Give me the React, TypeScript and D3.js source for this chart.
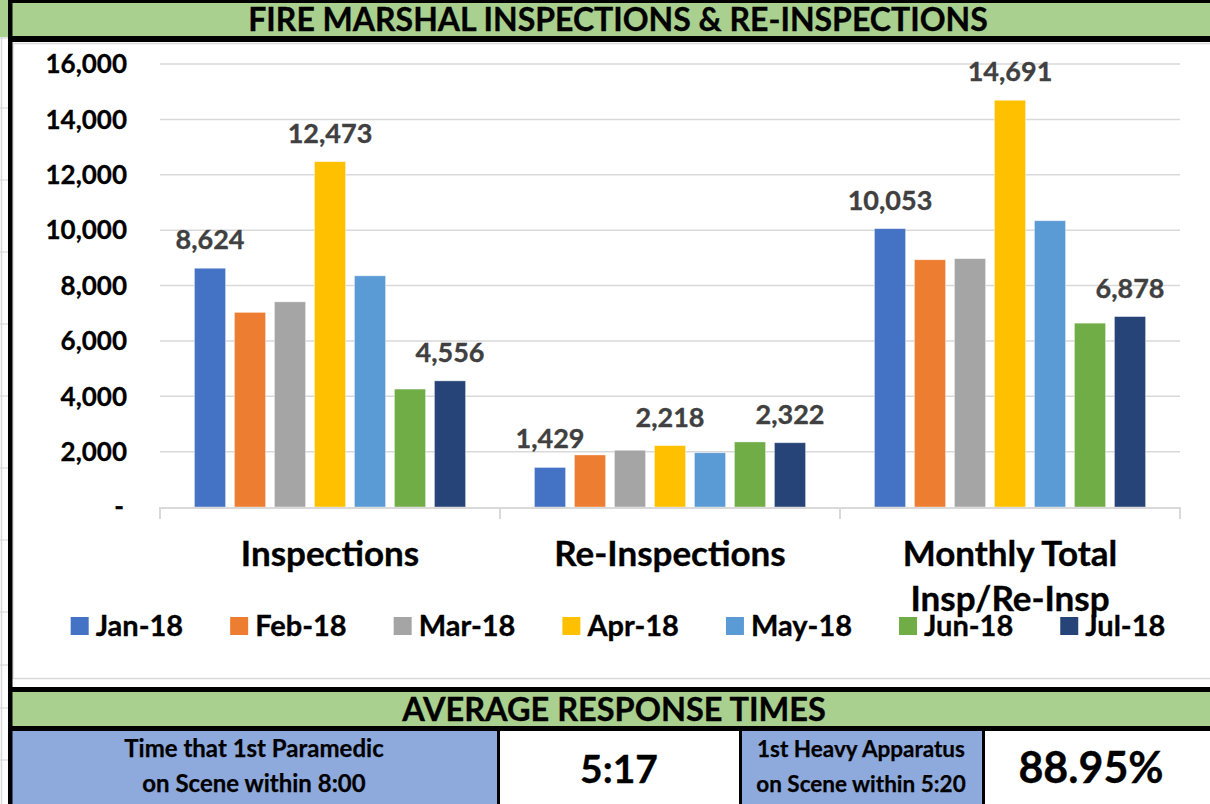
import React from 'react';
import * as d3 from 'd3';

const categories = ['Inspections', 'Re-Inspections', 'Monthly Total'];
const categoryLines: string[][] = [['Inspections'], ['Re-Inspections'], ['Monthly Total', 'Insp/Re-Insp']];
const months = ['Jan-18', 'Feb-18', 'Mar-18', 'Apr-18', 'May-18', 'Jun-18', 'Jul-18'];
const monthColors = ['#4472C4', '#ED7D31', '#A5A5A5', '#FFC000', '#5B9BD5', '#70AD47', '#264478'];
const inspections = [8624, 7030, 7410, 12473, 8350, 4260, 4556];
const reInspections = [1429, 1880, 2050, 2218, 1960, 2350, 2322];
const monthlyTotals = [10053, 8930, 8970, 14691, 10340, 6640, 6878];
const labeledMonths = ['Jan-18', 'Apr-18', 'Jul-18'];
const yTicks = [0, 2000, 4000, 6000, 8000, 10000, 12000, 14000, 16000];

const chartTitle = 'FIRE MARSHAL INSPECTIONS & RE-INSPECTIONS';
const tableTitle = 'AVERAGE RESPONSE TIMES';
const cell1Label = ['Time that 1st Paramedic', 'on Scene within 8:00'];
const cell1Value = '5:17';
const cell2Label = ['1st Heavy Apparatus', 'on Scene within 5:20'];
const cell2Value = '88.95%';

const seriesByCategory = [inspections, reInspections, monthlyTotals];

const FONT = "Lato, 'Open Sans', 'DejaVu Sans', sans-serif";
const GREEN = '#A9D08E';
const BLUE = '#8EA9DB';
const GRID = '#D9D9D9';

function measure(text: string, size: number): number {
  const c = document.createElement('canvas');
  const ctx = c.getContext('2d');
  if (!ctx) return text.length * size * 0.55;
  ctx.font = `700 ${size}px ${FONT}`;
  return ctx.measureText(text).width;
}

export default function App() {
  const W = 1210;
  const H = 804;
  const plotLeft = 160;
  const plotRight = 1180;
  const yBase = 507;
  const yTop = 64;

  const x0 = d3.scaleBand<string>().domain(categories).range([plotLeft, plotRight]).padding(0);
  const x1 = d3
    .scaleBand<string>()
    .domain(months)
    .range([0, x0.bandwidth()])
    .paddingInner(0.22)
    .paddingOuter(0.86);
  const y = d3.scaleLinear().domain([0, 16000]).range([yBase, yTop]);
  const fmt = d3.format(',');

  // legend layout
  const legendSize = 29;
  const markerSize = 18;
  const markerGap = 25;
  const itemGap = 47;
  const textWidths = months.map((m) => measure(m, legendSize));
  const totalLegend =
    textWidths.reduce((a, b) => a + b, 0) + months.length * markerGap + (months.length - 1) * itemGap;
  let lx = 618 - totalLegend / 2;
  const legendItems = months.map((m, i) => {
    const item = { m, x: lx, color: monthColors[i] };
    lx += markerGap + textWidths[i] + itemGap;
    return item;
  });
  const legendY = 626;

  const leftRows = [38, 108, 180, 252, 324, 396, 468, 540, 612, 665, 708, 760];
  const heavy = { stroke: '#000', strokeWidth: 0.35 };

  return (
    <svg
      width={W}
      height={H}
      style={{ position: 'absolute', left: 0, top: 0, background: '#fff' }}
      fontFamily={FONT}
    >
      {/* spreadsheet strip on the left */}
      <rect x={0} y={0} width={W} height={H} fill="#fff" />
      <line x1={1.5} x2={1.5} y1={36} y2={H} stroke={GRID} strokeWidth={1.5} />
      {leftRows.map((r) => (
        <line key={r} x1={0} x2={8} y1={r} y2={r} stroke={GRID} strokeWidth={1.2} />
      ))}

      {/* header */}
      <rect x={0} y={0} width={W} height={37} fill={GREEN} />
      <rect x={8} y={0} width={W} height={3} fill="#000" />
      <rect x={8} y={36} width={W} height={6} fill="#000" />
      <text x={618} y={31} textAnchor="middle" fontSize={32} fontWeight={700} fill="#000" {...heavy}>
        {chartTitle}
      </text>

      {/* chart area */}
      <rect x={13} y={43.5} width={W} height={635} fill="#fff" stroke={GRID} strokeWidth={1.5} />

      {/* gridlines */}
      {yTicks.map((t) => (
        <g key={t}>
          {t > 0 && (
            <line x1={plotLeft} x2={plotRight} y1={y(t)} y2={y(t)} stroke={GRID} strokeWidth={1.5} />
          )}
          <text
            x={t === 0 ? 124 : 127}
            y={y(t)}
            dy="0.36em"
            textAnchor="end"
            fontSize={26}
            fontWeight={700}
            fill="#000"
            {...heavy}
            strokeWidth={0.3}
          >
            {t === 0 ? '-' : fmt(t)}
          </text>
        </g>
      ))}

      {/* bars */}
      {categories.map((c, ci) => (
        <g key={c} transform={`translate(${x0(c)},0)`}>
          {months.map((m, mi) => {
            const v = seriesByCategory[ci][mi];
            return (
              <rect
                key={m}
                x={x1(m)}
                y={y(v)}
                width={x1.bandwidth()}
                height={yBase - y(v)}
                fill={monthColors[mi]}
                stroke="#fff"
                strokeOpacity={0.5}
                strokeWidth={0.8}
              />
            );
          })}
          {months.map((m, mi) => {
            if (!labeledMonths.includes(m)) return null;
            const v = seriesByCategory[ci][mi];
            return (
              <text
                key={'l' + m}
                x={(x1(m) as number) + x1.bandwidth() / 2}
                y={y(v) - 19}
                textAnchor="middle"
                fontSize={27}
                fontWeight={700}
                fill="#404040"
                stroke="#404040"
                strokeWidth={0.35}
              >
                {fmt(v)}
              </text>
            );
          })}
        </g>
      ))}

      {/* x axis */}
      <line x1={plotLeft} x2={plotRight} y1={yBase + 1} y2={yBase + 1} stroke={GRID} strokeWidth={2} />
      {[...categories.map((c) => x0(c) as number), plotRight].map((tx, i) => (
        <line key={i} x1={tx} x2={tx} y1={yBase} y2={yBase + 12} stroke={GRID} strokeWidth={2} />
      ))}

      {/* category labels */}
      {categories.map((c, ci) => (
        <text
          key={'c' + c}
          x={(x0(c) as number) + x0.bandwidth() / 2}
          y={566}
          textAnchor="middle"
          fontSize={35}
          fontWeight={700}
          fill="#000"
          {...heavy}
        >
          {categoryLines[ci].map((line, li) => (
            <tspan key={li} x={(x0(c) as number) + x0.bandwidth() / 2} dy={li === 0 ? 0 : 45}>
              {line}
            </tspan>
          ))}
        </text>
      ))}

      {/* legend */}
      {legendItems.map((it) => (
        <g key={it.m}>
          <rect x={it.x} y={legendY - 9} width={markerSize} height={markerSize} fill={it.color} />
          <text
            x={it.x + markerGap}
            y={legendY}
            dy="0.36em"
            fontSize={legendSize}
            fontWeight={700}
            fill="#000"
            {...heavy}
          >
            {it.m}
          </text>
        </g>
      ))}

      {/* bottom table */}
      <rect x={8} y={687} width={W} height={5} fill="#000" />
      <rect x={12} y={692} width={W} height={34} fill={GREEN} />
      <rect x={8} y={726} width={W} height={5} fill="#000" />
      <text x={614} y={721} textAnchor="middle" fontSize={32.5} fontWeight={700} fill="#000" {...heavy}>
        {tableTitle}
      </text>
      <rect x={12} y={731} width={485} height={H - 731} fill={BLUE} />
      <rect x={497} y={731} width={3} height={H - 731} fill="#000" />
      <rect x={500} y={731} width={239} height={H - 731} fill="#fff" />
      <rect x={739} y={731} width={3} height={H - 731} fill="#000" />
      <rect x={742} y={731} width={240} height={H - 731} fill={BLUE} />
      <rect x={982} y={731} width={3} height={H - 731} fill="#000" />

      <text textAnchor="middle" fontSize={24} fontWeight={700} fill="#000" {...heavy} strokeWidth={0.25}>
        {cell1Label.map((l, i) => (
          <tspan key={i} x={254} y={757 + i * 35}>
            {l}
          </tspan>
        ))}
      </text>
      <text x={619} y={783} textAnchor="middle" fontSize={39} fontWeight={700} fill="#000" {...heavy}>
        {cell1Value}
      </text>
      <text textAnchor="middle" fontSize={22.5} fontWeight={700} fill="#000" {...heavy} strokeWidth={0.25}>
        {cell2Label.map((l, i) => (
          <tspan key={i} x={861} y={757 + i * 35}>
            {l}
          </tspan>
        ))}
      </text>
      <text x={1091} y={783} textAnchor="middle" fontSize={43} fontWeight={700} fill="#000" {...heavy}>
        {cell2Value}
      </text>

      {/* left black border */}
      <rect x={8} y={0} width={4.5} height={H} fill="#000" />
    </svg>
  );
}
